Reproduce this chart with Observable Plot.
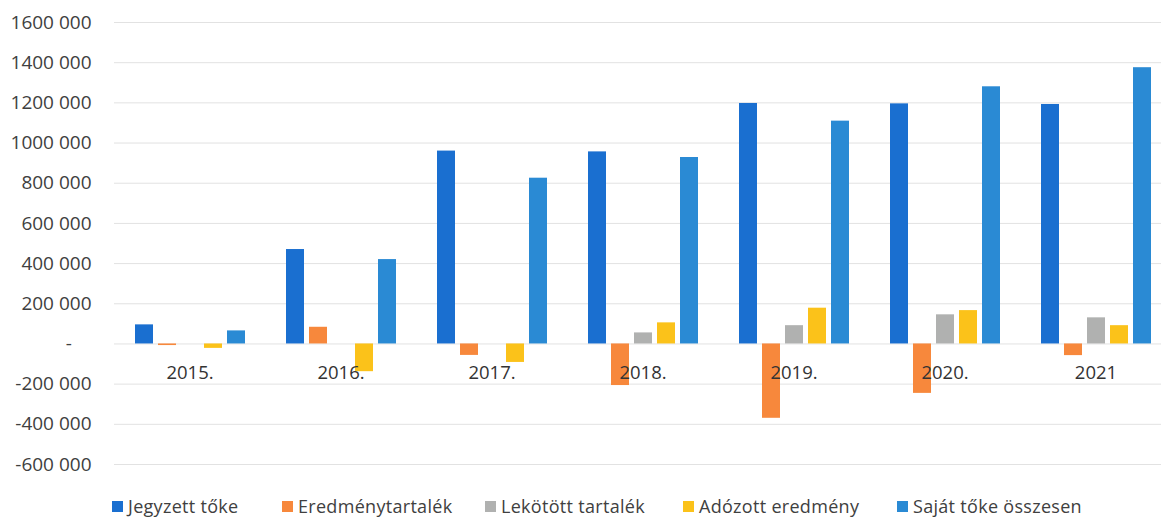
<!DOCTYPE html>
<html>
<head>
<meta charset="utf-8">
<script src="https://cdn.jsdelivr.net/npm/d3@7"></script>
<script src="https://cdn.jsdelivr.net/npm/@observablehq/plot@0.6"></script>
<style>
  html, body { margin: 0; padding: 0; background: #fff; }
  #chart svg { display: block; }
  #legend {
    display: flex; align-items: center;
    padding-left: 112px; height: 32px;
    font-family: "Open Sans", sans-serif; font-size: 18px; color: #404040;
    letter-spacing: 0.3px;
  }
  #legend .item { display: flex; align-items: center; gap: 5px; white-space: nowrap; }
  #legend .sw { width: 11px; height: 11px; display: inline-block; flex: none; }
  #legend .item:nth-child(1) { width: 170px; }
  #legend .item:nth-child(2) { width: 203px; }
  #legend .item:nth-child(3) { width: 198px; }
  #legend .item:nth-child(4) { width: 214px; }
</style>
</head>
<body>
<div id="chart"></div>
<div id="legend"></div>
<script>
const years = ["2015.", "2016.", "2017.", "2018.", "2019.", "2020.", "2021"];
const seriesNames = ["Jegyzett tőke", "Eredménytartalék", "Lekötött tartalék", "Adózott eredmény", "Saját tőke összesen"];
const seriesColors = ["#1a6fd0", "#f7883c", "#b0b1b0", "#fbc21a", "#2a8ad4"];

const jegyzettToke = [95000, 470000, 960000, 956000, 1197000, 1195000, 1192000];
const eredmenytartalek = [-8000, 83000, -57000, -207000, -370000, -246000, -58000];
const lekotottTartalek = [0, 0, 0, 55000, 91000, 145000, 130000];
const adozottEredmeny = [-22000, -138000, -92000, 105000, 178000, 166000, 91000];
const sajatToke = [65000, 420000, 825000, 928000, 1109000, 1280000, 1375000];

const yTicks = [-600000, -400000, -200000, 0, 200000, 400000, 600000, 800000, 1000000, 1200000, 1400000, 1600000];

const seriesValues = [jegyzettToke, eredmenytartalek, lekotottTartalek, adozottEredmeny, sajatToke];
const data = [];
years.forEach((yr, i) => {
  seriesNames.forEach((s, j) => {
    data.push({year: yr, series: s, value: seriesValues[j][i]});
  });
});

function fmt(v) {
  if (v === 0) return "-\u00a0\u00a0\u00a0\u00a0";
  const sign = v < 0 ? "-" : "";
  const a = Math.abs(v);
  const th = Math.floor(a / 1000);
  return sign + th + " " + String(a % 1000).padStart(3, "0");
}

const chart = Plot.plot({
  width: 1161,
  height: 490,
  marginTop: 22,
  marginBottom: 26,
  marginLeft: 113,
  marginRight: -10,
  style: {fontFamily: "Open Sans, sans-serif", fontSize: "19px", color: "#404040", background: "#fff"},
  fx: {domain: years, padding: 0, axis: null, label: null},
  x: {domain: seriesNames, paddingInner: 0.22, paddingOuter: 0.76, axis: null},
  y: {
    domain: [-600000, 1600000],
    ticks: yTicks,
    tickFormat: fmt,
    tickSize: 0,
    tickPadding: 23,
    label: null
  },
  color: {domain: seriesNames, range: seriesColors},
  marks: [
    Plot.gridY(yTicks, {stroke: "#e2e2e2", strokeOpacity: 1}),
    Plot.barY(data, {fx: "year", x: "series", y: "value", fill: "series"}),
    Plot.text(years, {fx: d => d, y: () => 0, dy: 29, text: d => d, fontSize: 18.5, fill: "#333"})
  ]
});
document.getElementById("chart").appendChild(chart);

const legend = document.getElementById("legend");
seriesNames.forEach((s, i) => {
  const item = document.createElement("div");
  item.className = "item";
  const sw = document.createElement("span");
  sw.className = "sw";
  sw.style.background = seriesColors[i];
  const t = document.createElement("span");
  t.textContent = s;
  item.appendChild(sw);
  item.appendChild(t);
  legend.appendChild(item);
});
</script>
</body>
</html>
